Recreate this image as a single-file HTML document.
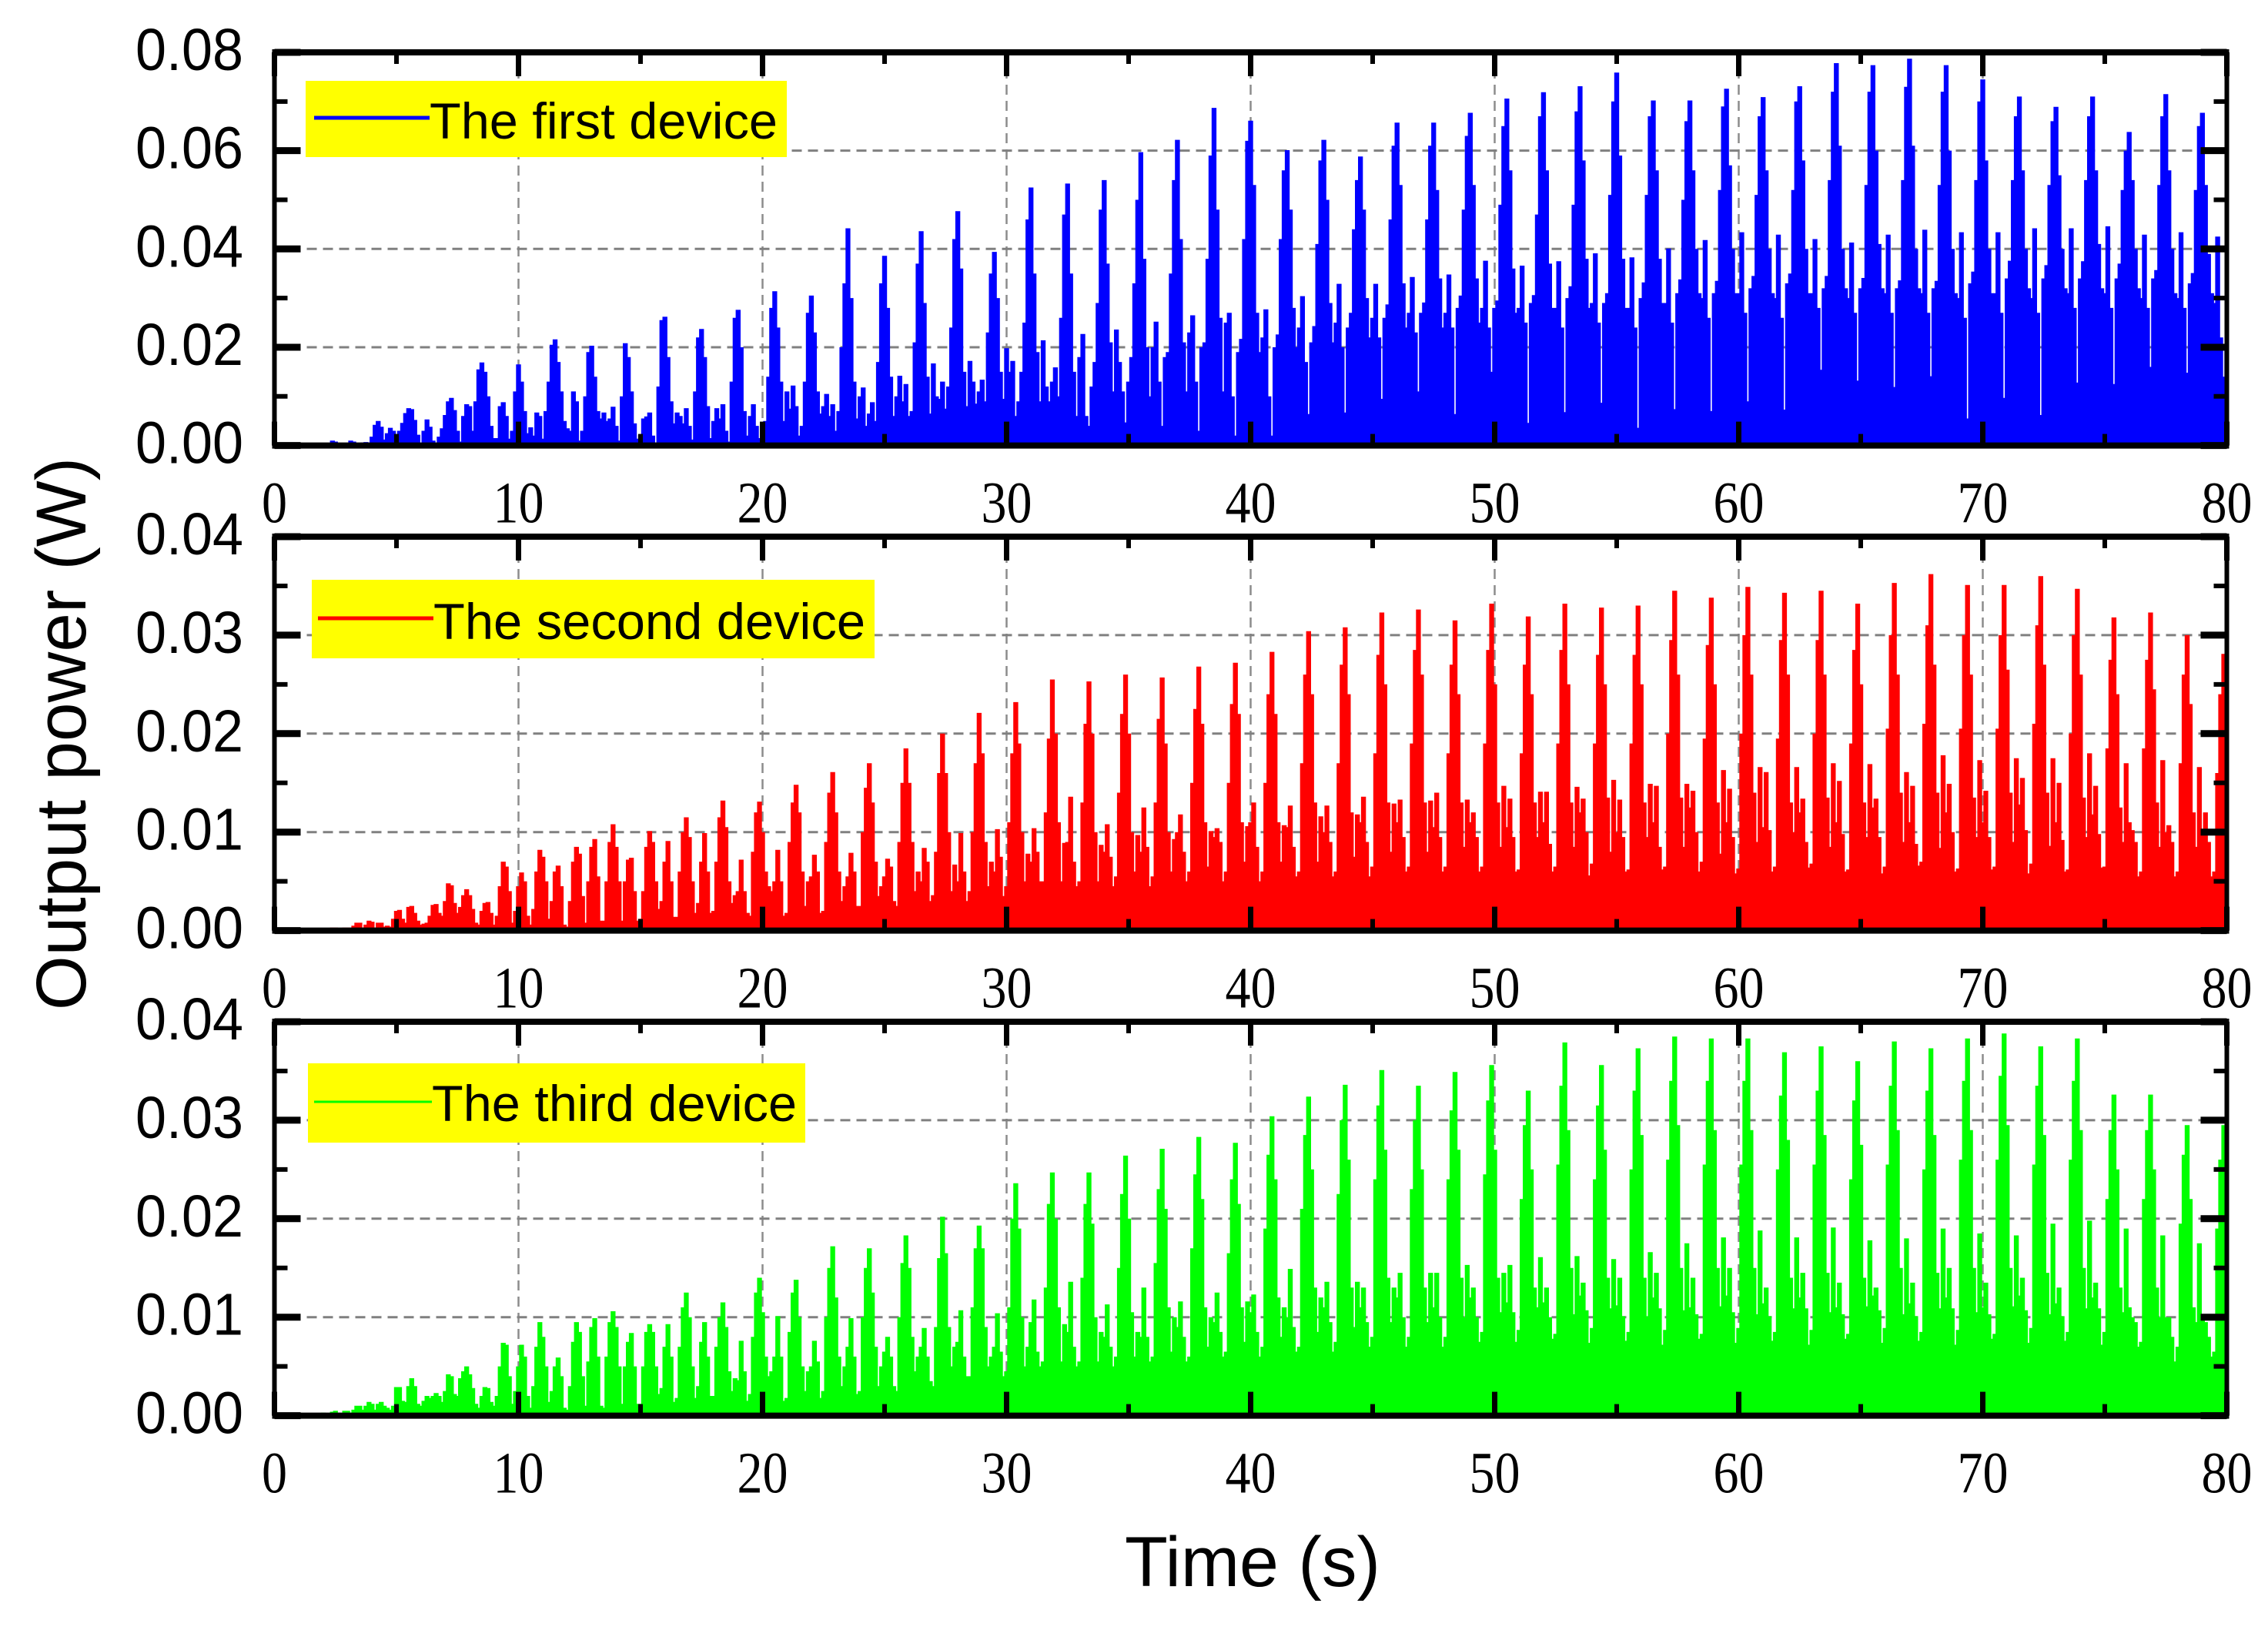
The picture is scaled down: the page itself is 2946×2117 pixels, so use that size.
<!DOCTYPE html>
<html lang="en">
<head>
<meta charset="utf-8">
<title>Output power of three devices over time</title>
<style>
html,body{margin:0;padding:0;background:#fff;}
svg{display:block;}
.ylab{font-family:"Liberation Sans",sans-serif;font-size:77px;fill:#000;}
.xlab{font-family:"Liberation Serif",serif;font-size:76px;fill:#000;}
.leg{font-family:"Liberation Sans",sans-serif;font-size:66px;fill:#000;}
.title{font-family:"Liberation Sans",sans-serif;font-size:92px;fill:#000;}
</style>
</head>
<body>
<svg id="chart" xmlns="http://www.w3.org/2000/svg" width="2946" height="2117" viewBox="0 0 2946 2117">
<rect x="0" y="0" width="2946" height="2117" fill="#fff"/>
<g id="plot-layer"></g>

<g>
<rect x="397" y="105" width="625" height="99" fill="#ffff00"/>
<line x1="408" x2="558" y1="153" y2="153" stroke="#0000ff" stroke-width="5"/>
<text class="leg" x="558" y="180" textLength="452" lengthAdjust="spacingAndGlyphs">The first device</text>
</g>
<g>
<rect x="405" y="753" width="731" height="102" fill="#ffff00"/>
<line x1="413" x2="563" y1="803" y2="803" stroke="#ff0000" stroke-width="5"/>
<text class="leg" x="563" y="830" textLength="561" lengthAdjust="spacingAndGlyphs">The second device</text>
</g>
<g>
<rect x="400" y="1381" width="646" height="103" fill="#ffff00"/>
<line x1="408" x2="561" y1="1431" y2="1431" stroke="#00ff00" stroke-width="3"/>
<text class="leg" x="561" y="1456" textLength="474" lengthAdjust="spacingAndGlyphs">The third device</text>
</g>

<text class="title" transform="translate(111,953) rotate(-90)" text-anchor="middle" textLength="718" lengthAdjust="spacingAndGlyphs">Output power (W)</text>
<text class="title" x="1627" y="2060" text-anchor="middle" textLength="332" lengthAdjust="spacingAndGlyphs">Time (s)</text>
</svg>

<script>
// Chart data
const sampleInterval = 0.125; // seconds between samples
const powerUnit = 1e-4;       // watts per stored unit
const xTicks = [0, 10, 20, 30, 40, 50, 60, 70, 80];
const xMinorTicks = [5, 15, 25, 35, 45, 55, 65, 75];
const yTicksFirst = [0, 0.02, 0.04, 0.06, 0.08];
const yMinorFirst = [0.01, 0.03, 0.05, 0.07];
const yTicksOther = [0, 0.01, 0.02, 0.03, 0.04];
const yMinorOther = [0.005, 0.015, 0.025, 0.035];
const yLabelsFirst = ["0.00", "0.02", "0.04", "0.06", "0.08"];
const yLabelsOther = ["0.00", "0.01", "0.02", "0.03", "0.04"];

const powerFirst = [
0,0,0,0,0,0,0,0,0,0,0,0,
0,0,0,0,0,0,3,10,8,0,0,0,
4,10,8,1,2,6,7,1,18,42,50,38,
12,25,36,30,14,30,46,66,76,74,52,22,
2,30,53,38,10,4,18,35,62,90,97,72,
30,8,60,84,80,30,90,155,169,150,100,40,
15,15,80,88,60,14,30,110,165,130,70,25,
37,20,67,60,14,70,130,205,216,170,110,50,
35,30,110,90,10,30,100,190,203,140,70,55,
67,50,55,79,40,10,100,208,180,110,45,14,
22,55,59,67,20,6,120,255,262,180,90,45,
67,60,45,76,40,12,110,220,237,180,80,15,
50,76,55,84,30,8,130,260,276,200,70,20,
60,84,40,15,48,50,140,280,314,240,130,50,
110,75,122,80,20,40,130,270,305,230,110,65,
80,105,60,84,30,70,200,330,442,300,130,55,
100,118,40,65,88,50,170,330,386,280,140,60,
100,142,90,125,60,70,210,370,436,290,140,65,
167,100,95,130,75,120,240,420,477,360,150,80,
172,130,85,110,134,90,230,350,394,300,150,95,
198,150,172,60,90,150,250,460,525,350,190,90,
214,120,90,130,159,100,260,470,533,350,150,60,
180,227,60,40,120,170,290,480,540,370,210,110,
236,170,110,47,130,180,330,500,597,380,200,100,
200,252,130,40,180,190,350,540,622,420,210,110,
230,265,130,30,200,210,380,590,687,480,260,110,
250,270,100,20,190,217,420,620,661,530,270,190,
220,277,100,20,200,226,420,560,601,480,280,200,
240,304,170,64,210,243,410,580,622,500,290,210,
250,329,200,67,240,270,440,540,588,480,300,220,
260,329,220,95,260,287,460,610,657,530,330,240,
270,343,230,110,270,291,460,610,657,520,340,240,
270,348,240,64,280,305,480,630,677,530,340,250,
280,376,240,150,280,295,490,650,706,560,360,270,
280,366,250,46,290,306,470,670,719,560,370,280,
280,375,240,68,300,324,490,680,731,580,380,280,
290,391,250,87,290,310,510,700,759,590,380,280,
280,383,240,36,300,332,510,670,702,560,380,290,
290,401,250,74,310,338,500,660,702,560,400,310,
300,418,260,70,310,335,520,690,726,570,400,310,
310,434,270,90,320,345,510,670,709,560,400,310,
300,429,260,73,330,350,520,700,731,580,400,310,
310,420,280,154,320,345,540,720,778,610,400,320,
300,413,270,132,320,341,530,720,774,600,410,320,
310,429,270,119,320,336,540,730,787,610,400,320,
310,439,270,141,320,335,530,720,774,600,400,310,
300,434,260,55,330,354,540,700,745,580,400,310,
310,434,270,97,340,376,540,670,710,560,400,320,
300,442,270,62,340,367,530,660,689,550,400,320,
310,442,280,128,340,375,540,670,710,560,410,320,
310,446,280,125,340,370,520,600,638,540,400,320,
300,429,280,160,340,357,530,670,715,560,400,310,
300,434,280,148,330,351,520,650,677,530,390,310,
290,425,220,140,200
];

const powerSecond = [
0,0,0,0,0,0,0,0,0,0,0,0,
0,0,0,0,0,0,0,3,3,1,0,3,
3,3,5,8,8,3,6,10,9,3,8,8,
4,5,4,12,20,21,12,8,24,25,18,10,
6,7,8,15,26,27,18,15,30,48,46,28,
18,24,36,42,36,22,8,6,20,28,29,18,
6,15,45,70,65,40,8,20,45,59,50,15,
6,22,60,82,75,50,12,30,60,66,45,6,
4,30,70,85,78,35,8,50,85,93,55,10,
10,50,90,108,85,50,10,50,72,74,40,10,
12,40,85,101,90,50,22,30,70,91,50,14,
14,60,100,115,95,50,18,28,70,99,60,18,
20,70,115,132,105,50,28,36,40,72,40,18,
15,80,120,131,100,60,45,40,50,82,50,15,
18,90,130,148,120,60,25,50,55,77,60,18,
20,90,140,161,120,60,30,45,55,79,60,25,
25,100,145,170,130,70,35,45,55,73,65,30,
25,90,150,185,150,90,40,60,50,84,70,30,
36,80,160,200,160,100,40,67,50,99,60,30,
40,100,170,221,180,90,45,70,60,103,75,35,
45,110,180,232,190,100,50,78,70,104,80,50,
50,120,195,255,200,110,50,89,90,136,70,45,
50,130,210,253,200,100,50,87,80,108,75,45,
55,140,220,260,200,100,60,97,80,125,85,45,
55,130,215,257,190,100,60,93,100,118,80,50,
60,150,225,268,210,110,65,101,95,104,90,50,
60,150,230,272,220,110,70,106,110,130,85,50,
60,150,240,283,220,110,70,107,105,127,85,55,
60,170,260,304,240,130,70,116,100,127,90,55,
60,170,270,308,240,120,75,118,110,136,90,55,
65,180,280,323,250,130,80,129,110,133,95,60,
65,190,285,326,260,130,80,132,105,140,95,60,
65,180,270,315,240,130,85,133,110,120,95,60,
65,190,285,332,250,130,85,147,105,134,95,60,
62,180,270,319,240,130,95,141,110,141,88,60,
65,190,285,332,250,130,85,146,120,134,100,56,
68,190,280,328,250,135,80,153,100,133,95,60,
62,190,280,330,250,130,95,149,110,147,85,62,
65,200,295,345,260,135,85,149,125,142,100,60,
70,195,290,338,250,130,78,163,110,144,95,58,
63,200,300,349,260,140,90,166,105,161,102,60,
65,195,295,343,260,130,100,166,120,134,90,64,
68,200,295,345,260,135,85,170,110,152,98,60,
62,190,285,332,250,130,95,169,125,134,95,58,
65,205,300,353,260,140,90,161,110,147,88,66,
70,210,310,362,270,140,84,178,120,149,100,60,
63,205,300,351,260,135,95,173,110,142,95,62,
65,205,300,351,265,140,90,175,128,155,102,58,
68,210,310,360,270,140,86,175,110,150,92,60,
62,200,300,347,260,135,95,180,118,147,98,64,
65,185,275,318,240,125,90,170,110,102,90,55,
60,185,275,323,245,130,85,173,100,107,90,55,
60,170,260,300,230,120,85,166,100,120,90,55,
60,160,240,281,200
];

const powerThird = [
0,0,0,0,0,0,0,0,0,0,0,0,
0,0,0,0,3,2,2,4,5,3,2,5,
5,3,6,10,10,6,10,14,12,6,12,14,
10,8,6,10,29,29,15,14,30,38,30,12,
10,15,20,18,20,23,20,14,25,42,40,22,
20,38,45,50,42,28,12,8,20,29,28,14,
10,20,50,74,72,40,12,25,50,72,60,20,
8,30,70,95,80,50,14,25,50,59,40,8,
6,30,75,95,85,40,10,55,90,99,60,10,
8,60,95,106,90,50,12,50,75,84,50,12,
12,50,85,93,85,50,22,28,70,93,60,14,
18,70,110,125,100,50,18,30,75,95,60,20,
20,70,100,115,90,45,25,38,36,76,45,15,
22,80,125,140,105,60,40,45,60,101,60,15,
18,85,125,138,100,50,25,45,50,76,55,18,
25,100,150,172,120,60,30,50,70,99,60,22,
25,100,150,170,125,70,30,50,65,80,60,30,
25,100,155,183,150,80,45,60,70,89,60,35,
30,90,160,202,165,90,50,70,75,107,60,40,
40,110,170,193,170,90,50,60,70,104,65,40,
45,110,200,236,190,100,50,70,95,118,65,50,
55,130,215,247,200,110,55,93,85,136,70,50,
55,140,215,247,195,100,55,85,80,113,70,50,
60,150,225,264,200,105,60,85,80,130,80,55,
60,155,230,271,210,110,65,100,90,116,80,55,
60,170,245,283,220,110,70,100,95,125,85,60,
65,165,240,277,215,110,75,116,105,123,85,60,
70,190,265,304,240,120,80,110,100,149,90,65,
70,210,285,324,250,130,85,120,110,136,95,65,
75,225,300,336,260,130,90,136,110,130,95,70,
80,240,315,351,270,140,95,130,120,145,100,70,
80,230,300,335,250,130,95,145,110,145,100,70,
80,240,310,349,270,140,100,153,120,130,100,75,
85,245,320,356,270,140,105,145,115,153,105,75,
87,220,295,330,250,130,110,161,115,130,100,78,
83,255,335,379,290,150,103,162,122,135,107,74,
89,240,315,356,270,140,109,159,112,140,101,76,
85,250,330,373,285,140,101,166,120,145,109,72,
87,260,340,385,295,150,107,175,110,140,103,78,
83,255,340,383,290,150,111,181,122,150,105,74,
89,255,340,383,290,150,103,188,114,130,101,76,
85,250,325,369,280,140,109,181,120,145,109,72,
87,255,330,375,285,145,105,191,110,135,103,78,
83,240,320,360,275,140,111,178,122,130,107,74,
89,255,335,380,290,150,103,180,114,135,101,76,
85,250,330,373,285,145,109,190,120,150,109,72,
87,260,340,383,290,150,105,185,110,135,103,78,
83,260,345,388,295,150,111,183,122,140,107,74,
89,255,335,375,285,145,103,195,114,130,101,76,
85,260,340,383,290,150,109,198,120,135,109,72,
85,220,290,326,250,130,105,190,110,100,95,70,
75,220,290,326,250,130,100,183,100,100,80,55,
70,195,265,295,220,110,95,175,100,95,80,60,
65,190,260,295,200
];

const svgNS = "http://www.w3.org/2000/svg";
const layer = document.getElementById("plot-layer");
const plotLeft = 356.5, plotRight = 2892.5, xMax = 80;
const barSpan = 1.6; // drawn width of each sample, in sample intervals

function make(tag, attrs, parent) {
  const el = document.createElementNS(svgNS, tag);
  for (const k in attrs) el.setAttribute(k, attrs[k]);
  parent.appendChild(el);
  return el;
}
function xScale(t) { return plotLeft + (t / xMax) * (plotRight - plotLeft); }

function drawPanel(name, top, bottom, yMax, color, values, yTicks, yMinor, yLabels) {
  const yScale = function (v) { return bottom - (v / yMax) * (bottom - top); };
  const g = make("g", {}, layer);
  
  

  // grid lines sit below the data
  xTicks.slice(1, -1).forEach(function (t) {
    const gl = make("line", {x1: xScale(t), x2: xScale(t), y1: top, y2: bottom, stroke: "#8c8c8c", "stroke-width": 2.5, "stroke-dasharray": "13 8"}, g);
    
    
  });
  yTicks.slice(1, -1).forEach(function (v) {
    const gl = make("line", {x1: plotLeft, x2: plotRight, y1: yScale(v), y2: yScale(v), stroke: "#808080", "stroke-width": 3, "stroke-dasharray": "13 8"}, g);
    
    
  });

  // series: one overlapping bar per sample, merged into a single filled path
  let d = "";
  const halfSpan = sampleInterval * barSpan / 2;
  values.forEach(function (v, i) {
    if (v <= 0) return;
    const t = i * sampleInterval;
    const x0 = xScale(Math.max(0, t - halfSpan)).toFixed(1);
    const x1 = xScale(Math.min(xMax, t + halfSpan)).toFixed(1);
    const y = yScale(v * powerUnit).toFixed(1);
    const base = yScale(0).toFixed(1);
    d += "M" + x0 + " " + base + "L" + x0 + " " + y + "L" + x1 + " " + y + "L" + x1 + " " + base + "Z";
  });
  const area = make("path", {d: d, fill: color, stroke: "none"}, g);
  
  

  // ticks on all four sides
  xTicks.forEach(function (t) {
    [[top, top + 31], [bottom - 31, bottom]].forEach(function (p) {
      const tk = make("line", {x1: xScale(t), x2: xScale(t), y1: p[0], y2: p[1], stroke: "#000", "stroke-width": 7}, g);
      
      
    });
  });
  xMinorTicks.forEach(function (t) {
    [[top, top + 15], [bottom - 15, bottom]].forEach(function (p) {
      const tk = make("line", {x1: xScale(t), x2: xScale(t), y1: p[0], y2: p[1], stroke: "#000", "stroke-width": 6}, g);
      
      
    });
  });
  yTicks.forEach(function (v) {
    [[plotLeft, plotLeft + 34], [plotRight - 34, plotRight]].forEach(function (p) {
      const tk = make("line", {x1: p[0], x2: p[1], y1: yScale(v), y2: yScale(v), stroke: "#000", "stroke-width": 9}, g);
      
      
    });
  });
  yMinor.forEach(function (v) {
    [[plotLeft, plotLeft + 17], [plotRight - 17, plotRight]].forEach(function (p) {
      const tk = make("line", {x1: p[0], x2: p[1], y1: yScale(v), y2: yScale(v), stroke: "#000", "stroke-width": 6}, g);
      
      
    });
  });

  // frame
  const hTop = make("line", {x1: plotLeft - 3, x2: plotRight + 3, y1: top, y2: top, stroke: "#000", "stroke-width": 8}, g);
  
  
  const hBot = make("line", {x1: plotLeft - 3, x2: plotRight + 3, y1: bottom, y2: bottom, stroke: "#000", "stroke-width": 8}, g);
  
  
  const vLeft = make("line", {x1: plotLeft, x2: plotLeft, y1: top, y2: bottom, stroke: "#000", "stroke-width": 6}, g);
  
  
  const vRight = make("line", {x1: plotRight, x2: plotRight, y1: top, y2: bottom, stroke: "#000", "stroke-width": 6}, g);
  
  

  // tick labels
  xTicks.forEach(function (t) {
    const s = String(t);
    const lb = make("text", {class: "xlab", x: xScale(t), y: bottom + 100, "text-anchor": "middle", textLength: s.length * 33, lengthAdjust: "spacingAndGlyphs"}, g);
    lb.textContent = s;
    
    
  });
  yTicks.forEach(function (v, i) {
    const lb = make("text", {class: "ylab", x: 316, y: yScale(v) + 23, "text-anchor": "end", textLength: 140, lengthAdjust: "spacingAndGlyphs"}, g);
    lb.textContent = yLabels[i];
    
    
  });
}

drawPanel("panel-first-device", 68, 578.6, 0.08, "#0000ff", powerFirst, yTicksFirst, yMinorFirst, yLabelsFirst);
drawPanel("panel-second-device", 697, 1208.6, 0.04, "#ff0000", powerSecond, yTicksOther, yMinorOther, yLabelsOther);
drawPanel("panel-third-device", 1327, 1838.6, 0.04, "#00ff00", powerThird, yTicksOther, yMinorOther, yLabelsOther);
</script>
</body>
</html>
